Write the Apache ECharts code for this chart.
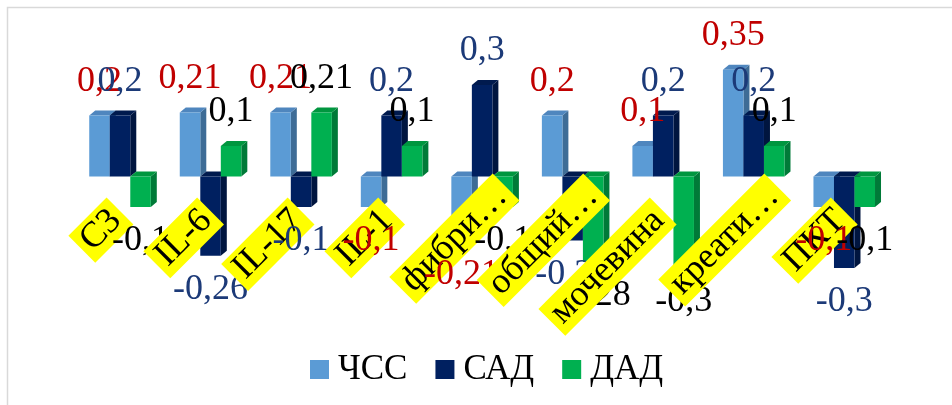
<!DOCTYPE html>
<html>
<head>
<meta charset="utf-8">
<script src="https://cdn.jsdelivr.net/npm/echarts@6/dist/echarts.min.js"></script>
<style>
  html, body { margin: 0; padding: 0; background: #ffffff; }
  #chart { width: 952px; height: 405px; }
</style>
</head>
<body>
<div id="chart"></div>
<script>
// Categories (truncated labels as displayed on the axis)
const categories = ['C3', 'IL-6', 'IL-17', 'IL-1', 'фибри…', 'общий…', 'мочевина', 'креати…', 'ПКТ'];

// Correlation coefficients per indicator
const seriesNames = ['ЧСС', 'САД', 'ДАД'];
const hrValues  = [0.2, 0.21, 0.21, -0.1, -0.21, 0.2, 0.1, 0.35, -0.1];   // ЧСС
const sbpValues = [0.2, -0.26, -0.1, 0.2, 0.3, -0.21, 0.2, 0.2, -0.3];    // САД
const dbpValues = [-0.1, 0.1, 0.21, 0.1, -0.1, -0.28, -0.3, 0.1, -0.1];   // ДАД

// Face colours of the pseudo-3D columns: front, side, top; and value label colour
const palette = [
  { front: '#5B9BD5', side: '#3E6C96', top: '#4F86BE', label: '#C00000' },
  { front: '#002060', side: '#00153F', top: '#001A4E', label: '#1C3A78' },
  { front: '#00B050', side: '#007A38', top: '#00963F', label: '#000000' }
];

const SERIF = '"Liberation Serif", "Times New Roman", serif';
const GROUP_RATIO = 0.68;   // share of the category band taken by the three columns
const DEPTH_X = 6, DEPTH_Y = 5;
const LABEL_GAP = 34;

function fmt(v) { return String(v).replace('.', ','); }

function barRenderer(idx) {
  const col = palette[idx];
  return function (params, api) {
    const ci = api.value(0);
    const v = api.value(1);
    const base = api.coord([ci, 0]);
    const end = api.coord([ci, v]);
    const band = api.size([1, 0])[0];
    const w = band * GROUP_RATIO / 3;
    const x0 = base[0] + (idx - 1.5) * w;
    const x1 = x0 + w;
    const yTop = Math.min(base[1], end[1]);
    const yBot = Math.max(base[1], end[1]);
    const children = [
      { type: 'polygon', z2: idx,
        shape: { points: [[x1, yTop], [x1 + DEPTH_X, yTop - DEPTH_Y], [x1 + DEPTH_X, yBot - DEPTH_Y], [x1, yBot]] },
        style: { fill: col.side } },
      { type: 'polygon', z2: idx,
        shape: { points: [[x0, yTop], [x1, yTop], [x1 + DEPTH_X, yTop - DEPTH_Y], [x0 + DEPTH_X, yTop - DEPTH_Y]] },
        style: { fill: col.top } },
      { type: 'rect', z2: idx,
        shape: { x: x0, y: yTop, width: w, height: yBot - yTop },
        style: { fill: col.front } },
      { type: 'text', z2: 105 + ci * 10 + idx,
        x: x0 + w / 2,
        y: v >= 0 ? yTop - LABEL_GAP : yBot + LABEL_GAP,
        style: { text: fmt(v), fill: col.label, font: '36px ' + SERIF, align: 'center', verticalAlign: 'middle' } }
    ];
    return { type: 'group', children: children };
  };
}

function categoryLabelRenderer(params, api) {
  const ci = api.value(0);
  const pt = api.coord([ci, 0]);
  const text = categories[ci];
  // truncated labels sit higher along their slant
  const truncated = text.endsWith('…');
  const x = truncated ? pt[0] + 24 : pt[0];
  const y = truncated ? pt[1] + 10.5 : pt[1] + 34.5;
  return {
    type: 'text', z2: 100 + ci * 10,
    x: x, y: y, rotation: Math.PI / 4,
    style: {
      text: text, fill: '#000000', font: '36px ' + SERIF,
      align: 'right', verticalAlign: 'middle',
      backgroundColor: '#FFFF00', padding: [0, 6], lineHeight: 38
    }
  };
}

const valueSets = [hrValues, sbpValues, dbpValues];
const series = valueSets.map(function (vals, idx) {
  return {
    name: seriesNames[idx],
    type: 'custom',
    z: 2,
    itemStyle: { color: palette[idx].front },
    renderItem: barRenderer(idx),
    encode: { x: 0, y: 1 },
    data: vals.map(function (v, i) { return [i, v]; })
  };
});
series.push({
  name: 'categoryLabels',
  type: 'custom',
  z: 2,
  renderItem: categoryLabelRenderer,
  encode: { x: 0, y: 1 },
  data: categories.map(function (c, i) { return [i, 0]; })
});

const chart = echarts.init(document.getElementById('chart'));
chart.setOption({
  animation: false,
  backgroundColor: '#ffffff',
  color: palette.map(function (p) { return p.front; }),
  graphic: [{
    type: 'rect', silent: true,
    shape: { x: 7.5, y: 7.5, width: 960, height: 420 },
    style: { fill: 'none', stroke: '#D9D9D9', lineWidth: 1.5 }
  }],
  grid: { left: 74.75, width: 814.75, top: 54.5, height: 244, containLabel: false },
  xAxis: {
    type: 'category', data: categories, show: false
  },
  yAxis: {
    type: 'value', min: -0.4, max: 0.4, interval: 0.1, show: false
  },
  legend: {
    data: seriesNames,
    left: 305, top: 347,
    icon: 'rect', itemWidth: 19, itemHeight: 19, itemGap: 28,
    textStyle: { fontSize: 35, fontFamily: SERIF, color: '#000000', padding: [0, 0, 0, 4] }
  },
  series: series
});
</script>
</body>
</html>
